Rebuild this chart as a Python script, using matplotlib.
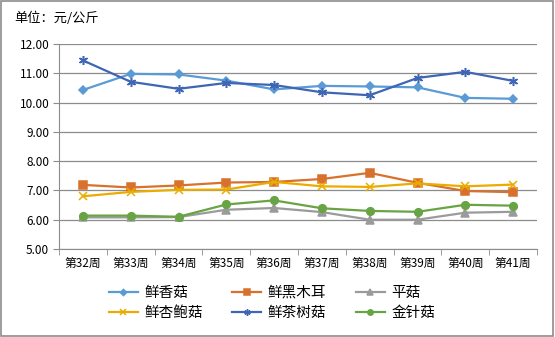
import matplotlib.pyplot as plt
from matplotlib.patches import Rectangle

plt.rcParams["font.family"] = ["Noto Sans CJK SC", "DejaVu Sans"]

weeks = ["第32周", "第33周", "第34周", "第35周", "第36周",
         "第37周", "第38周", "第39周", "第40周", "第41周"]

xianggu = [10.43, 10.98, 10.96, 10.75, 10.45, 10.57, 10.55, 10.52, 10.16, 10.13]
heimuer = [7.19, 7.10, 7.17, 7.27, 7.29, 7.39, 7.60, 7.26, 6.98, 6.94]
pinggu = [6.08, 6.08, 6.09, 6.34, 6.40, 6.26, 6.00, 6.00, 6.24, 6.27]
xingbaogu = [6.80, 6.95, 7.02, 7.03, 7.29, 7.14, 7.12, 7.24, 7.14, 7.20]
chashugu = [11.44, 10.71, 10.47, 10.67, 10.60, 10.35, 10.25, 10.84, 11.05, 10.74]
jinzhengu = [6.14, 6.14, 6.10, 6.52, 6.66, 6.39, 6.30, 6.27, 6.51, 6.48]

series = [
    ("鲜香菇", xianggu, "#5B9BD5", "D", 4.5),
    ("鲜黑木耳", heimuer, "#D8712E", "s", 5.5),
    ("平菇", pinggu, "#9B9B9B", "^", 5.5),
    ("鲜杏鲍菇", xingbaogu, "#EBAC00", "x", 5.5),
    ("鲜茶树菇", chashugu, "#3F65B5", (6, 2, 0), 6.5),
    ("金针菇", jinzhengu, "#68A443", "o", 5.5),
]

fig = plt.figure(figsize=(5.55, 3.37), dpi=100)
ax = fig.add_axes([59 / 555, 1 - 249 / 337, 478 / 555, 205 / 337])

x = list(range(len(weeks)))
handles = {}
for name, vals, color, marker, ms in series:
    (h,) = ax.plot(x, vals, color=color, lw=1.6, marker=marker, markersize=ms,
                   markeredgecolor=color, markerfacecolor=color, markeredgewidth=1.1,
                   label=name)
    handles[name] = h

ax.set_xlim(-0.5, len(weeks) - 0.5)
ax.set_ylim(5, 12)
ax.set_yticks([5, 6, 7, 8, 9, 10, 11, 12])
ax.set_yticklabels([f"{v:.2f}" for v in range(5, 13)], fontsize=8.5)
ax.yaxis.grid(True, color="#8C8C8C", lw=0.9)
ax.set_axisbelow(True)

ax.set_xticks(x)
ax.set_xticklabels(weeks, fontsize=8.5)
ax.set_xticks([i - 0.5 for i in range(len(weeks) + 1)], minor=True)
ax.tick_params(axis="x", which="major", length=0, pad=6)
ax.tick_params(axis="x", which="minor", length=4, color="#8C8C8C")
ax.tick_params(axis="y", length=4, color="#8C8C8C", pad=3)

for s in ["top", "right"]:
    ax.spines[s].set_visible(False)
for s in ["left", "bottom"]:
    ax.spines[s].set_color("#8C8C8C")

fig.text(14 / 555, 1 - 18 / 337, "单位：元/公斤", fontsize=9.5, va="center", ha="left")

order = ["鲜香菇", "鲜杏鲍菇", "鲜黑木耳", "鲜茶树菇", "平菇", "金针菇"]
fig.legend([handles[n] for n in order], order, ncol=3, loc="center",
           bbox_to_anchor=(272 / 555, 1 - 303 / 337), frameon=False, fontsize=10.5,
           handlelength=2.0, columnspacing=2.0, labelspacing=0.45, handletextpad=0.45,
           markerscale=0.7)

fig.patches.append(Rectangle((0.002, 0.003), 0.995, 0.994, transform=fig.transFigure,
                             fill=False, edgecolor="#8C8C8C", lw=1.2))

fig.savefig("out.png", dpi=100)
